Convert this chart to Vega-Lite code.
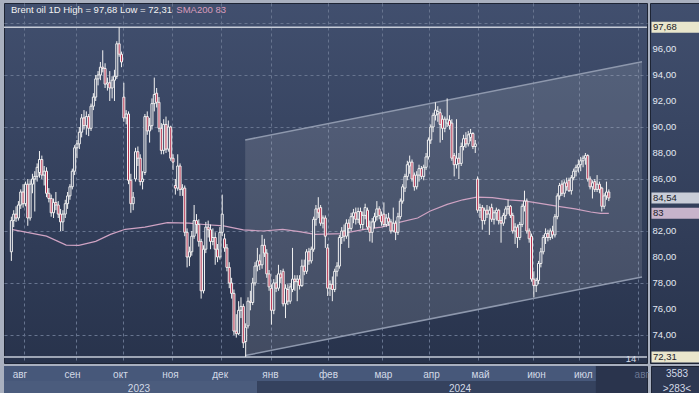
{
"$schema": "https://vega.github.io/schema/vega-lite/v6.json",
"background": "#a9b0bf",
"padding": {"left": 2, "top": 2, "right": 2, "bottom": 1},
"autosize": {"type": "pad"},
"spacing": 0,
"resolve": {"scale": {"color": "independent"}},
"config": {"font": "Liberation Sans", "concat": {"spacing": 0}, "view": {"stroke": "#1d2434", "strokeWidth": 1}, "axisY": {"labelOverlap": false}},
"datasets": {
"candles": [
{"i":0,"o":80.4,"h":83.1,"l":79.7,"c":82.8},{"i":1,"o":82.8,"h":83.6,"l":82.3,"c":83.3},{"i":2,"o":83.3,"h":83.9,"l":82.7,"c":83.0},{"i":3,"o":83.0,"h":84.3,"l":82.8,"c":84.0},{"i":4,"o":84.0,"h":85.2,"l":83.7,"c":85.0},{"i":5,"o":85.0,"h":85.6,"l":83.8,"c":84.1},{"i":6,"o":84.1,"h":85.8,"l":83.9,"c":85.6},{"i":7,"o":85.6,"h":86.0,"l":82.4,"c":83.0},{"i":8,"o":83.0,"h":85.9,"l":82.8,"c":85.6},{"i":9,"o":85.6,"h":86.4,"l":84.9,"c":86.0},
{"i":10,"o":86.0,"h":86.6,"l":83.5,"c":86.2},{"i":11,"o":86.2,"h":87.2,"l":85.8,"c":86.9},{"i":12,"o":86.5,"h":88.15,"l":86.1,"c":87.5},{"i":13,"o":87.5,"h":87.8,"l":86.0,"c":86.3},{"i":14,"o":86.3,"h":87.0,"l":85.5,"c":86.6},{"i":15,"o":86.6,"h":86.9,"l":84.6,"c":84.9},{"i":16,"o":84.9,"h":85.3,"l":84.2,"c":84.5},{"i":17,"o":84.5,"h":84.8,"l":83.1,"c":83.4},{"i":18,"o":83.4,"h":84.5,"l":83.0,"c":84.2},{"i":19,"o":84.2,"h":85.0,"l":83.6,"c":84.0},
{"i":20,"o":84.0,"h":84.3,"l":83.0,"c":83.3},{"i":21,"o":83.3,"h":83.7,"l":82.0,"c":82.7},{"i":22,"o":82.7,"h":83.6,"l":82.0,"c":83.3},{"i":23,"o":83.3,"h":84.4,"l":83.0,"c":84.1},{"i":24,"o":84.1,"h":85.0,"l":83.7,"c":84.7},{"i":25,"o":84.7,"h":85.6,"l":84.4,"c":85.4},{"i":26,"o":85.4,"h":86.8,"l":85.2,"c":86.6},{"i":27,"o":86.6,"h":88.6,"l":86.3,"c":88.4},{"i":28,"o":88.4,"h":89.0,"l":87.6,"c":88.7},{"i":29,"o":88.7,"h":90.0,"l":88.3,"c":89.6},
{"i":30,"o":89.6,"h":91.0,"l":89.2,"c":90.7},{"i":31,"o":90.7,"h":91.3,"l":89.8,"c":90.1},{"i":32,"o":90.1,"h":91.2,"l":89.4,"c":90.8},{"i":33,"o":90.8,"h":91.0,"l":89.3,"c":89.9},{"i":34,"o":89.9,"h":91.8,"l":89.7,"c":91.6},{"i":35,"o":91.6,"h":92.6,"l":91.3,"c":92.3},{"i":36,"o":92.3,"h":94.0,"l":92.0,"c":93.7},{"i":37,"o":93.7,"h":94.3,"l":93.2,"c":94.0},{"i":38,"o":94.0,"h":95.0,"l":93.6,"c":94.6},{"i":39,"o":94.6,"h":95.9,"l":94.2,"c":94.5},
{"i":40,"o":94.5,"h":94.9,"l":93.0,"c":93.3},{"i":41,"o":93.3,"h":93.8,"l":92.8,"c":93.4},{"i":42,"o":93.4,"h":94.3,"l":92.0,"c":93.0},{"i":43,"o":93.0,"h":93.9,"l":92.2,"c":93.6},{"i":44,"o":93.6,"h":94.4,"l":92.0,"c":93.9},{"i":45,"o":93.9,"h":96.6,"l":93.7,"c":96.4},{"i":46,"o":96.4,"h":97.68,"l":95.4,"c":95.6},{"i":47,"o":95.6,"h":95.8,"l":94.6,"c":95.0},{"i":48,"o":92.3,"h":93.4,"l":90.4,"c":90.7},{"i":49,"o":90.7,"h":91.3,"l":90.2,"c":91.0},
{"i":50,"o":91.0,"h":91.2,"l":85.6,"c":85.9},{"i":51,"o":85.9,"h":86.4,"l":83.4,"c":84.1},{"i":52,"o":84.1,"h":85.0,"l":83.6,"c":84.6},{"i":53,"o":86.0,"h":88.4,"l":85.8,"c":88.1},{"i":54,"o":88.1,"h":88.5,"l":87.0,"c":87.6},{"i":55,"o":87.6,"h":87.9,"l":85.5,"c":85.8},{"i":56,"o":85.8,"h":86.6,"l":85.2,"c":86.0},{"i":57,"o":86.5,"h":91.0,"l":86.3,"c":90.8},{"i":58,"o":90.8,"h":91.2,"l":89.4,"c":89.7},{"i":59,"o":89.7,"h":90.7,"l":88.8,"c":90.1},
{"i":60,"o":90.1,"h":92.2,"l":89.8,"c":91.8},{"i":61,"o":91.8,"h":93.8,"l":91.2,"c":92.5},{"i":62,"o":92.6,"h":93.0,"l":91.5,"c":91.9},{"i":63,"o":91.9,"h":92.3,"l":89.6,"c":89.9},{"i":64,"o":89.9,"h":90.3,"l":87.9,"c":88.2},{"i":65,"o":88.2,"h":90.6,"l":87.9,"c":90.2},{"i":66,"o":90.2,"h":90.8,"l":88.0,"c":88.3},{"i":67,"o":88.3,"h":90.5,"l":88.1,"c":90.0},{"i":68,"o":90.0,"h":90.1,"l":87.4,"c":87.6},{"i":69,"o":87.6,"h":87.9,"l":86.7,"c":87.3},
{"i":70,"o":85.5,"h":86.0,"l":84.8,"c":85.3},{"i":71,"o":85.3,"h":87.9,"l":85.1,"c":87.0},{"i":72,"o":87.0,"h":87.2,"l":84.7,"c":85.2},{"i":73,"o":85.2,"h":85.6,"l":84.7,"c":85.3},{"i":74,"o":85.3,"h":85.5,"l":81.6,"c":81.9},{"i":75,"o":81.9,"h":82.2,"l":79.2,"c":80.0},{"i":76,"o":80.0,"h":80.8,"l":79.3,"c":80.4},{"i":77,"o":80.4,"h":82.0,"l":80.1,"c":81.6},{"i":78,"o":81.6,"h":84.0,"l":81.4,"c":82.8},{"i":79,"o":82.8,"h":83.3,"l":81.8,"c":82.5},
{"i":80,"o":82.5,"h":82.9,"l":80.8,"c":81.2},{"i":81,"o":81.2,"h":81.4,"l":76.8,"c":77.4},{"i":82,"o":77.4,"h":80.9,"l":77.2,"c":80.6},{"i":83,"o":80.6,"h":82.7,"l":80.3,"c":82.3},{"i":84,"o":82.3,"h":82.8,"l":81.5,"c":82.1},{"i":85,"o":82.1,"h":82.5,"l":80.6,"c":81.2},{"i":86,"o":81.2,"h":82.2,"l":80.9,"c":81.5},{"i":87,"o":81.5,"h":81.9,"l":79.4,"c":80.6},{"i":88,"o":80.6,"h":81.0,"l":79.6,"c":80.0},{"i":89,"o":80.0,"h":82.3,"l":79.8,"c":81.9},
{"i":90,"o":81.9,"h":84.8,"l":81.6,"c":83.3},{"i":91,"o":81.4,"h":81.8,"l":80.4,"c":80.7},{"i":92,"o":80.7,"h":81.0,"l":78.9,"c":79.2},{"i":93,"o":79.2,"h":79.6,"l":77.6,"c":78.0},{"i":94,"o":78.0,"h":78.4,"l":76.8,"c":77.2},{"i":95,"o":77.2,"h":77.5,"l":74.0,"c":74.3},{"i":96,"o":74.3,"h":75.6,"l":73.8,"c":74.1},{"i":97,"o":74.1,"h":76.6,"l":74.0,"c":75.9},{"i":98,"o":75.9,"h":76.9,"l":75.3,"c":76.2},{"i":99,"o":76.2,"h":76.4,"l":73.0,"c":73.4},
{"i":100,"o":73.5,"h":74.9,"l":72.31,"c":74.6},{"i":101,"o":74.7,"h":76.9,"l":74.5,"c":76.6},{"i":102,"o":76.6,"h":77.4,"l":75.9,"c":76.5},{"i":103,"o":76.5,"h":78.4,"l":76.3,"c":78.0},{"i":104,"o":78.0,"h":79.6,"l":77.8,"c":79.3},{"i":105,"o":79.3,"h":80.7,"l":78.9,"c":79.7},{"i":106,"o":79.7,"h":80.2,"l":79.0,"c":79.4},{"i":107,"o":79.4,"h":81.7,"l":79.1,"c":80.9},{"i":108,"o":80.9,"h":81.4,"l":80.0,"c":80.3},{"i":109,"o":80.3,"h":80.6,"l":78.4,"c":78.7},
{"i":110,"o":78.7,"h":79.0,"l":77.4,"c":77.7},{"i":111,"o":77.6,"h":77.9,"l":74.8,"c":75.9},{"i":112,"o":75.9,"h":78.3,"l":75.6,"c":78.0},{"i":113,"o":78.0,"h":78.6,"l":77.3,"c":77.6},{"i":114,"o":77.6,"h":79.4,"l":77.4,"c":78.7},{"i":115,"o":78.7,"h":79.0,"l":78.0,"c":78.4},{"i":116,"o":78.9,"h":79.1,"l":76.2,"c":76.4},{"i":117,"o":76.4,"h":77.9,"l":75.3,"c":77.6},{"i":118,"o":77.5,"h":77.9,"l":76.3,"c":76.6},{"i":119,"o":76.6,"h":78.0,"l":76.4,"c":77.7},
{"i":120,"o":77.5,"h":80.7,"l":77.3,"c":78.3},{"i":121,"o":78.3,"h":78.6,"l":77.4,"c":78.1},{"i":122,"o":78.1,"h":78.6,"l":76.6,"c":78.3},{"i":123,"o":78.3,"h":78.6,"l":77.5,"c":77.8},{"i":124,"o":77.8,"h":79.8,"l":77.7,"c":79.3},{"i":125,"o":79.3,"h":79.8,"l":78.6,"c":78.9},{"i":126,"o":78.9,"h":80.6,"l":78.7,"c":80.4},{"i":127,"o":80.4,"h":80.7,"l":79.4,"c":79.7},{"i":128,"o":79.7,"h":80.8,"l":79.5,"c":80.6},{"i":129,"o":80.6,"h":83.1,"l":80.4,"c":82.9},
{"i":130,"o":82.9,"h":84.0,"l":82.4,"c":83.7},{"i":131,"o":83.7,"h":84.6,"l":83.0,"c":83.4},{"i":132,"o":83.8,"h":84.0,"l":82.4,"c":82.6},{"i":133,"o":82.6,"h":83.2,"l":82.2,"c":83.0},{"i":134,"o":83.0,"h":83.2,"l":80.7,"c":81.6},{"i":135,"o":80.7,"h":81.0,"l":77.0,"c":77.6},{"i":136,"o":77.6,"h":78.2,"l":77.0,"c":77.9},{"i":137,"o":77.9,"h":78.5,"l":76.6,"c":77.5},{"i":138,"o":77.5,"h":79.1,"l":77.3,"c":78.9},{"i":139,"o":78.9,"h":79.6,"l":78.5,"c":79.3},
{"i":140,"o":79.3,"h":81.7,"l":79.1,"c":81.5},{"i":141,"o":81.5,"h":82.3,"l":81.0,"c":82.0},{"i":142,"o":82.0,"h":82.5,"l":81.2,"c":81.6},{"i":143,"o":81.6,"h":82.9,"l":81.4,"c":82.6},{"i":144,"o":82.6,"h":82.9,"l":80.7,"c":82.2},{"i":145,"o":82.2,"h":83.4,"l":82.0,"c":83.1},{"i":146,"o":83.1,"h":83.7,"l":82.6,"c":83.4},{"i":147,"o":83.4,"h":83.8,"l":82.5,"c":82.9},{"i":148,"o":82.9,"h":83.8,"l":82.6,"c":83.5},{"i":149,"o":83.5,"h":83.8,"l":82.2,"c":82.5},
{"i":150,"o":82.5,"h":83.5,"l":82.1,"c":83.2},{"i":151,"o":83.2,"h":84.1,"l":82.9,"c":83.8},{"i":152,"o":83.6,"h":83.8,"l":82.1,"c":82.3},{"i":153,"o":82.3,"h":82.8,"l":81.2,"c":81.9},{"i":154,"o":81.9,"h":83.0,"l":81.1,"c":82.7},{"i":155,"o":82.7,"h":83.4,"l":82.2,"c":83.1},{"i":156,"o":83.1,"h":84.3,"l":82.8,"c":83.7},{"i":157,"o":83.7,"h":83.9,"l":82.9,"c":83.2},{"i":158,"o":83.2,"h":83.5,"l":82.4,"c":82.7},{"i":159,"o":83.3,"h":84.2,"l":82.3,"c":82.5},
{"i":160,"o":82.5,"h":83.3,"l":82.3,"c":83.0},{"i":161,"o":83.0,"h":83.4,"l":82.4,"c":82.7},{"i":162,"o":82.7,"h":82.9,"l":81.8,"c":82.0},{"i":163,"o":82.0,"h":83.8,"l":81.9,"c":82.6},{"i":164,"o":82.6,"h":82.8,"l":81.3,"c":81.9},{"i":165,"o":81.9,"h":83.4,"l":81.7,"c":83.1},{"i":166,"o":83.1,"h":84.5,"l":82.9,"c":84.3},{"i":167,"o":84.3,"h":85.6,"l":84.1,"c":85.4},{"i":168,"o":85.3,"h":86.4,"l":85.0,"c":86.2},{"i":169,"o":86.2,"h":87.4,"l":85.9,"c":87.1},
{"i":170,"o":87.0,"h":87.8,"l":86.4,"c":87.3},{"i":171,"o":87.3,"h":87.5,"l":85.8,"c":86.0},{"i":172,"o":86.3,"h":86.5,"l":85.1,"c":85.4},{"i":173,"o":85.4,"h":86.6,"l":85.2,"c":86.3},{"i":174,"o":86.3,"h":87.1,"l":85.8,"c":86.8},{"i":175,"o":86.8,"h":87.0,"l":86.0,"c":86.2},{"i":176,"o":86.2,"h":87.1,"l":85.9,"c":86.9},{"i":177,"o":86.9,"h":88.0,"l":86.7,"c":87.7},{"i":178,"o":87.7,"h":89.2,"l":87.5,"c":89.0},{"i":179,"o":89.0,"h":90.2,"l":88.7,"c":90.0},
{"i":180,"o":90.0,"h":91.1,"l":89.6,"c":90.9},{"i":181,"o":90.9,"h":91.9,"l":90.5,"c":91.3},{"i":182,"o":91.0,"h":91.6,"l":90.4,"c":91.2},{"i":183,"o":91.1,"h":91.4,"l":88.8,"c":90.2},{"i":184,"o":90.6,"h":90.9,"l":89.0,"c":89.9},{"i":185,"o":89.9,"h":90.8,"l":89.6,"c":90.6},{"i":186,"o":90.3,"h":92.2,"l":90.0,"c":90.6},{"i":187,"o":90.5,"h":90.9,"l":89.8,"c":90.1},{"i":188,"o":90.3,"h":90.6,"l":87.4,"c":87.6},{"i":189,"o":87.8,"h":88.0,"l":86.2,"c":87.1},
{"i":190,"o":87.1,"h":90.6,"l":86.8,"c":87.6},{"i":191,"o":87.6,"h":88.0,"l":86.0,"c":87.2},{"i":192,"o":87.2,"h":88.8,"l":87.0,"c":88.5},{"i":193,"o":88.5,"h":89.4,"l":88.2,"c":89.1},{"i":194,"o":89.1,"h":89.6,"l":88.4,"c":88.7},{"i":195,"o":88.7,"h":89.7,"l":88.5,"c":89.4},{"i":196,"o":89.2,"h":89.85,"l":88.9,"c":89.5},{"i":197,"o":89.5,"h":89.6,"l":88.3,"c":88.5},{"i":198,"o":88.5,"h":89.0,"l":88.0,"c":88.7},{"i":199,"o":86.0,"h":86.2,"l":83.4,"c":83.6},
{"i":200,"o":83.6,"h":84.1,"l":83.0,"c":83.8},{"i":201,"o":83.8,"h":84.0,"l":82.1,"c":82.8},{"i":202,"o":82.8,"h":83.8,"l":82.5,"c":83.6},{"i":203,"o":83.6,"h":84.0,"l":83.0,"c":83.3},{"i":204,"o":83.3,"h":83.9,"l":81.7,"c":83.6},{"i":205,"o":83.8,"h":84.1,"l":82.7,"c":82.9},{"i":206,"o":82.9,"h":83.6,"l":82.5,"c":83.4},{"i":207,"o":83.4,"h":83.8,"l":82.8,"c":83.6},{"i":208,"o":83.6,"h":83.7,"l":82.5,"c":82.8},{"i":209,"o":82.8,"h":83.1,"l":81.1,"c":82.6},
{"i":210,"o":82.6,"h":83.4,"l":82.4,"c":83.2},{"i":211,"o":83.2,"h":83.9,"l":82.9,"c":83.7},{"i":212,"o":83.7,"h":84.4,"l":83.3,"c":83.9},{"i":213,"o":83.9,"h":84.0,"l":83.0,"c":83.2},{"i":214,"o":83.2,"h":83.4,"l":81.8,"c":82.0},{"i":215,"o":82.0,"h":82.6,"l":81.0,"c":82.3},{"i":216,"o":82.3,"h":82.5,"l":80.7,"c":81.5},{"i":217,"o":81.5,"h":82.7,"l":81.3,"c":82.5},{"i":218,"o":82.5,"h":84.1,"l":82.3,"c":83.9},{"i":219,"o":83.9,"h":85.1,"l":83.5,"c":84.3},
{"i":220,"o":84.3,"h":84.5,"l":81.8,"c":82.0},{"i":221,"o":82.0,"h":82.2,"l":81.1,"c":81.4},{"i":222,"o":81.6,"h":81.8,"l":78.1,"c":78.3},{"i":223,"o":78.3,"h":78.9,"l":76.9,"c":77.8},{"i":224,"o":77.8,"h":78.4,"l":77.3,"c":78.2},{"i":225,"o":78.2,"h":79.7,"l":77.9,"c":79.5},{"i":226,"o":79.5,"h":80.7,"l":79.2,"c":80.4},{"i":227,"o":80.4,"h":81.7,"l":80.2,"c":81.5},{"i":228,"o":81.5,"h":82.2,"l":81.0,"c":81.8},{"i":229,"o":81.8,"h":82.1,"l":81.2,"c":81.5},
{"i":230,"o":81.5,"h":82.2,"l":81.3,"c":82.0},{"i":231,"o":82.0,"h":82.4,"l":81.4,"c":81.7},{"i":232,"o":81.7,"h":83.3,"l":81.5,"c":83.1},{"i":233,"o":83.1,"h":84.9,"l":82.9,"c":84.7},{"i":234,"o":84.7,"h":85.7,"l":84.4,"c":85.5},{"i":235,"o":85.6,"h":85.9,"l":84.7,"c":84.9},{"i":236,"o":84.9,"h":85.9,"l":84.6,"c":85.7},{"i":237,"o":85.7,"h":86.1,"l":85.1,"c":85.4},{"i":238,"o":85.9,"h":86.1,"l":85.0,"c":85.1},{"i":239,"o":85.1,"h":86.3,"l":84.8,"c":86.1},
{"i":240,"o":86.1,"h":86.8,"l":85.9,"c":86.6},{"i":241,"o":86.6,"h":87.1,"l":86.2,"c":86.9},{"i":242,"o":86.9,"h":87.5,"l":86.5,"c":87.1},{"i":243,"o":87.1,"h":87.7,"l":86.6,"c":87.4},{"i":244,"o":87.4,"h":87.8,"l":86.9,"c":87.6},{"i":245,"o":87.6,"h":88.0,"l":87.1,"c":87.8},{"i":246,"o":87.8,"h":87.9,"l":85.8,"c":86.0},{"i":247,"o":86.0,"h":86.2,"l":85.2,"c":85.4},{"i":248,"o":85.4,"h":85.9,"l":84.5,"c":85.7},{"i":249,"o":85.8,"h":86.0,"l":85.0,"c":85.2},
{"i":250,"o":85.2,"h":86.3,"l":85.0,"c":85.6},{"i":251,"o":85.6,"h":85.8,"l":84.9,"c":85.2},{"i":252,"o":85.3,"h":85.4,"l":83.5,"c":83.9},{"i":253,"o":83.9,"h":84.9,"l":83.7,"c":84.7},{"i":254,"o":84.7,"h":85.8,"l":84.4,"c":85.0},{"i":255,"o":85.0,"h":85.2,"l":84.3,"c":84.54}
],
"sma": [
{"i":0,"v":82.13},{"i":15,"v":81.6},{"i":23.4,"v":80.92},{"i":28.8,"v":80.9},{"i":36,"v":81.2},{"i":42.3,"v":81.74},{"i":48.6,"v":82.13},{"i":57,"v":82.3},{"i":66.6,"v":82.64},{"i":75.9,"v":82.6},{"i":82.2,"v":82.5},{"i":90.6,"v":82.4},{"i":99,"v":82.08},{"i":107.4,"v":82.0},{"i":115.8,"v":82.13},{"i":122.9,"v":81.95},{"i":129.7,"v":81.74},{"i":141,"v":81.8},{"i":150.7,"v":82.13},{"i":157.8,"v":82.3},{"i":165,"v":82.64},{"i":173.4,"v":83.0},{"i":178.8,"v":83.54},{"i":186,"v":84.05},{"i":192.7,"v":84.4},{"i":198.6,"v":84.6},{"i":205.3,"v":84.56},{"i":212.4,"v":84.4},{"i":219.6,"v":84.3},{"i":226.3,"v":84.1},{"i":233.4,"v":83.9},{"i":240.6,"v":83.7},{"i":247.3,"v":83.46},{"i":251.5,"v":83.36},{"i":255,"v":83.36}
],
"chan": [{"i":99.8,"lo":72.42,"hi":89.0},{"i":269.16,"lo":78.46,"hi":95.02}],
"hl": [{"v":97.68},{"v":72.31}],
"titles": [{"i":-0.17,"p":99.0,"t":"Brent oil 1D High = 97,68 Low = 72,31","k":"w"},{"i":70.4,"p":99.0,"t":"SMA200 83","k":"s"}],
"marker": [{"i":264.5,"p":72.15,"t":"14"}],
"boxes": [{"v":97.68,"t":"97,68","k":"hl"},{"v":84.54,"t":"84,54","k":"last"},{"v":83.36,"t":"83","k":"sma"},{"v":72.31,"t":"72,31","k":"hl"}],
"bands": [{"r":"m","a":-1.01,"b":247.7,"k":"m"},{"r":"y","a":-1.01,"b":105.3,"k":"y23"},{"r":"y","a":105.3,"b":247.7,"k":"y24"}],
"darkbox": [{"a":247.7,"b":269.16}],
"years": [{"i":55.7,"r":"y","t":"2023"},{"i":190.6,"r":"y","t":"2024"}],
"corner": [{"r":"a","t":"3583"},{"r":"b","t":">283<"}]
},
"vconcat": [
{"hconcat": [
{
"width": 643, "height": 360,
"view": {"fill": {"gradient": "linear", "x1": 0, "y1": 0, "x2": 0, "y2": 1, "stops": [{"offset": 0, "color": "#414f6e"}, {"offset": 1, "color": "#28334c"}]}, "stroke": "#1d2434"},
"layer": [
{"data": {"name": "chan"}, "mark": {"type": "area", "color": "#ffffff", "opacity": 0.12},
 "encoding": {
  "x": {"field": "i", "type": "quantitative", "scale": {"domain": [-1.01, 269.16], "nice": false, "zero": false},
        "axis": {"values": [5.5,27.6,47.7,68.7,89.6,110.7,135.1,158.2,178.4,199,222.5,242.2,267.5], "grid": true, "labels": false, "ticks": false, "domain": false, "title": null, "gridColor": "#67748f", "gridDash": [3,3], "gridWidth": 1}},
  "y": {"field": "lo", "type": "quantitative", "scale": {"domain": [71.846, 99.538], "nice": false, "zero": false},
        "axis": {"values": [74,76,78,80,82,84,86,88,90,92,94,96,98], "grid": true, "labels": false, "ticks": false, "domain": false, "title": null, "gridColor": "#67748f", "gridDash": [3,3], "gridWidth": 1}},
  "y2": {"field": "hi"}}},
{"data": {"name": "chan"}, "mark": {"type": "line", "color": "#8e98ad", "strokeWidth": 1.5},
 "encoding": {"x": {"field": "i", "type": "quantitative"}, "y": {"field": "hi", "type": "quantitative"}}},
{"data": {"name": "chan"}, "mark": {"type": "line", "color": "#8e98ad", "strokeWidth": 1.5},
 "encoding": {"x": {"field": "i", "type": "quantitative"}, "y": {"field": "lo", "type": "quantitative"}}},
{"data": {"name": "hl"}, "mark": {"type": "rule", "color": "#c6ccd8", "strokeWidth": 1.5},
 "encoding": {"y": {"field": "v", "type": "quantitative"}}},
{"data": {"name": "sma"}, "mark": {"type": "line", "color": "#cfa3c3", "strokeWidth": 1.2},
 "encoding": {"x": {"field": "i", "type": "quantitative"}, "y": {"field": "v", "type": "quantitative"}}},
{"data": {"name": "candles"}, "mark": {"type": "rule", "color": "#f2f2f2", "strokeWidth": 1},
 "encoding": {"x": {"field": "i", "type": "quantitative"}, "y": {"field": "l", "type": "quantitative"}, "y2": {"field": "h"}}},
{"data": {"name": "candles"}, "mark": {"type": "bar", "width": 2, "stroke": "#f2f2f2", "strokeWidth": 1},
 "encoding": {"x": {"field": "i", "type": "quantitative"}, "y": {"field": "o", "type": "quantitative"}, "y2": {"field": "c"},
  "fill": {"condition": {"test": "datum.c < datum.o", "value": "#b8304e"}, "value": "#36425f"}}},
{"data": {"name": "marker"}, "mark": {"type": "text", "color": "#d5dbe6", "fontSize": 9.5, "align": "center", "baseline": "middle"},
 "encoding": {"x": {"field": "i", "type": "quantitative"}, "y": {"field": "p", "type": "quantitative"}, "text": {"field": "t"}}},
{"data": {"name": "titles"}, "mark": {"type": "text", "align": "left", "baseline": "middle", "fontSize": 9.5},
 "encoding": {"x": {"field": "i", "type": "quantitative"}, "y": {"field": "p", "type": "quantitative"}, "text": {"field": "t"},
  "color": {"field": "k", "type": "nominal", "scale": {"domain": ["w","s"], "range": ["#f2f2f2","#d99cbc"]}, "legend": null}}}
]
},
{
"width": 52, "height": 360,
"view": {"fill": {"gradient": "linear", "x1": 0, "y1": 0, "x2": 0, "y2": 1, "stops": [{"offset": 0, "color": "#414f6e"}, {"offset": 1, "color": "#28334c"}]}, "stroke": "#1d2434"},
"data": {"name": "boxes"},
"encoding": {
  "y": {"field": "v", "type": "quantitative", "scale": {"domain": [71.846, 99.538], "nice": false, "zero": false},
        "axis": {"orient": "left", "values": [74,76,78,80,82,86,88,90,92,94,96], "labelExpr": "replace(format(datum.value,'.2f'),'.',',')", "labelAlign": "left", "labelBaseline": "middle", "labelPadding": -2, "tickSize": 0, "ticks": false, "domain": false, "grid": false, "title": null, "labelColor": "#e4e9f2", "labelFontSize": 9.5, "labelOverlap": false, "labelSeparation": -50, "labelBound": false}}
},
"layer": [
{"mark": {"type": "tick", "orient": "horizontal", "thickness": 11, "size": 49, "opacity": 1},
 "encoding": {"color": {"field": "k", "type": "nominal", "scale": {"domain": ["hl","last","sma"], "range": ["#e9e6cc","#c9cdd8","#c7b4cb"]}, "legend": null}}},
{"mark": {"type": "text", "align": "left", "baseline": "middle", "dx": -23, "fontSize": 9.5, "color": "#1c1c28"},
 "encoding": {"text": {"field": "t"}}}
]
}
], "spacing": 0, "resolve": {"scale": {"color": "independent"}}},
{"hconcat": [
{
"width": 643, "height": 30,
"view": {"fill": "#35425e", "stroke": "#1d2434"},
"layer": [
{"data": {"name": "bands"}, "mark": {"type": "rect"},
 "encoding": {
  "x": {"field": "a", "type": "quantitative", "scale": {"domain": [-1.01, 269.16], "nice": false, "zero": false},
        "axis": {"orient": "bottom", "values": [5.5,27.6,47.7,68.7,89.6,110.7,135.1,158.2,178.4,199,222.5,242.2,266.8],
                 "labelExpr": "datum.value<10?'авг':datum.value<30?'сен':datum.value<50?'окт':datum.value<70?'ноя':datum.value<100?'дек':datum.value<120?'янв':datum.value<140?'фев':datum.value<160?'мар':datum.value<190?'апр':datum.value<210?'май':datum.value<230?'июн':datum.value<250?'июл':'авг'",
                 "labelPadding": -27, "tickSize": 0, "ticks": false, "domain": false, "grid": false, "title": null, "labelFlush": false, "labelOverlap": false, "labelBaseline": "top",
                 "labelColor": {"condition": {"test": "datum.value > 260", "value": "#6b7793"}, "value": "#d3dae7"}, "labelFontSize": 10, "zindex": 1}},
  "x2": {"field": "b"},
  "y": {"field": "r", "type": "nominal", "scale": {"domain": ["m","y"], "paddingInner": 0, "paddingOuter": 0}, "axis": null},
  "color": {"field": "k", "type": "nominal", "scale": {"domain": ["m","y23","y24"], "range": ["#47587a","#4b5c7d","#35425e"]}, "legend": null}}},
{"data": {"name": "darkbox"}, "mark": {"type": "rect", "color": "#2a344d"},
 "encoding": {"x": {"field": "a", "type": "quantitative"}, "x2": {"field": "b"}}},
{"data": {"name": "years"}, "mark": {"type": "text", "fontSize": 10, "color": "#d3dae7", "baseline": "middle"},
 "encoding": {"x": {"field": "i", "type": "quantitative"}, "y": {"field": "r", "type": "nominal"}, "text": {"field": "t"}}}
]
},
{
"width": 52, "height": 30,
"view": {"fill": "#2d3852", "stroke": "#1d2434"},
"data": {"name": "corner"},
"mark": {"type": "text", "fontSize": 10, "color": "#d3dae7", "baseline": "middle"},
"encoding": {"y": {"field": "r", "type": "nominal", "scale": {"domain": ["a","b"]}, "axis": null}, "text": {"field": "t"}}
}
], "spacing": 0, "resolve": {"scale": {"color": "independent"}}}
]
}
